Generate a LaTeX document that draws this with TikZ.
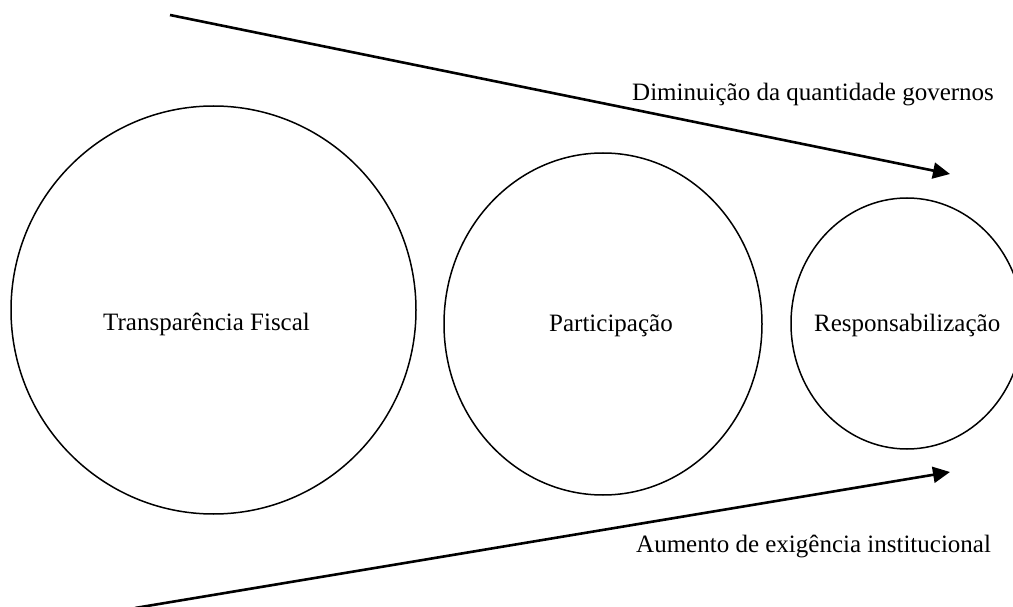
\documentclass[tikz,border=0pt]{standalone}
\usepackage{fontspec}
\setmainfont{Liberation Serif}
\usetikzlibrary{arrows.meta,shapes.geometric}
\begin{document}
\begin{tikzpicture}[x=1pt,y=-1pt,
  circ/.style={draw,ellipse,line width=1.5pt,inner sep=0pt},
  lbl/.style={inner sep=0pt,anchor=base west,font=\fontsize{25}{30}\selectfont},
  bigarrow/.style={line width=2.6pt,-{Triangle[length=17pt,width=16pt]}}]
\useasboundingbox[fill=white] (0,0) rectangle (1013,607);
\node[circ,minimum width=405pt,minimum height=408pt] (tf) at (213.5,310) {};
\node[circ,minimum width=318pt,minimum height=342pt] (pa) at (603,324) {};
\node[circ,minimum width=232pt,minimum height=251pt] (re) at (907,323.5) {};
\node[lbl] (tft) at (103,330) {Transparência Fiscal};
\node[lbl] (pat) at (549,331.5) {Participação};
\node[lbl] (ret) at (814,331) {Responsabilização};
\node[lbl] (dim) at (632,101) {Diminuição da quantidade governos};
\node[lbl] (aum) at (636,552) {Aumento de exigência institucional};
\coordinate (a1s) at (170,15);
\coordinate (a1e) at (950,174);
\coordinate (a2s) at (135,608);
\coordinate (a2e) at (950,472);
\draw[bigarrow] (a1s) -- (a1e);
\draw[bigarrow] (a2s) -- (a2e);
\end{tikzpicture}
\end{document}
